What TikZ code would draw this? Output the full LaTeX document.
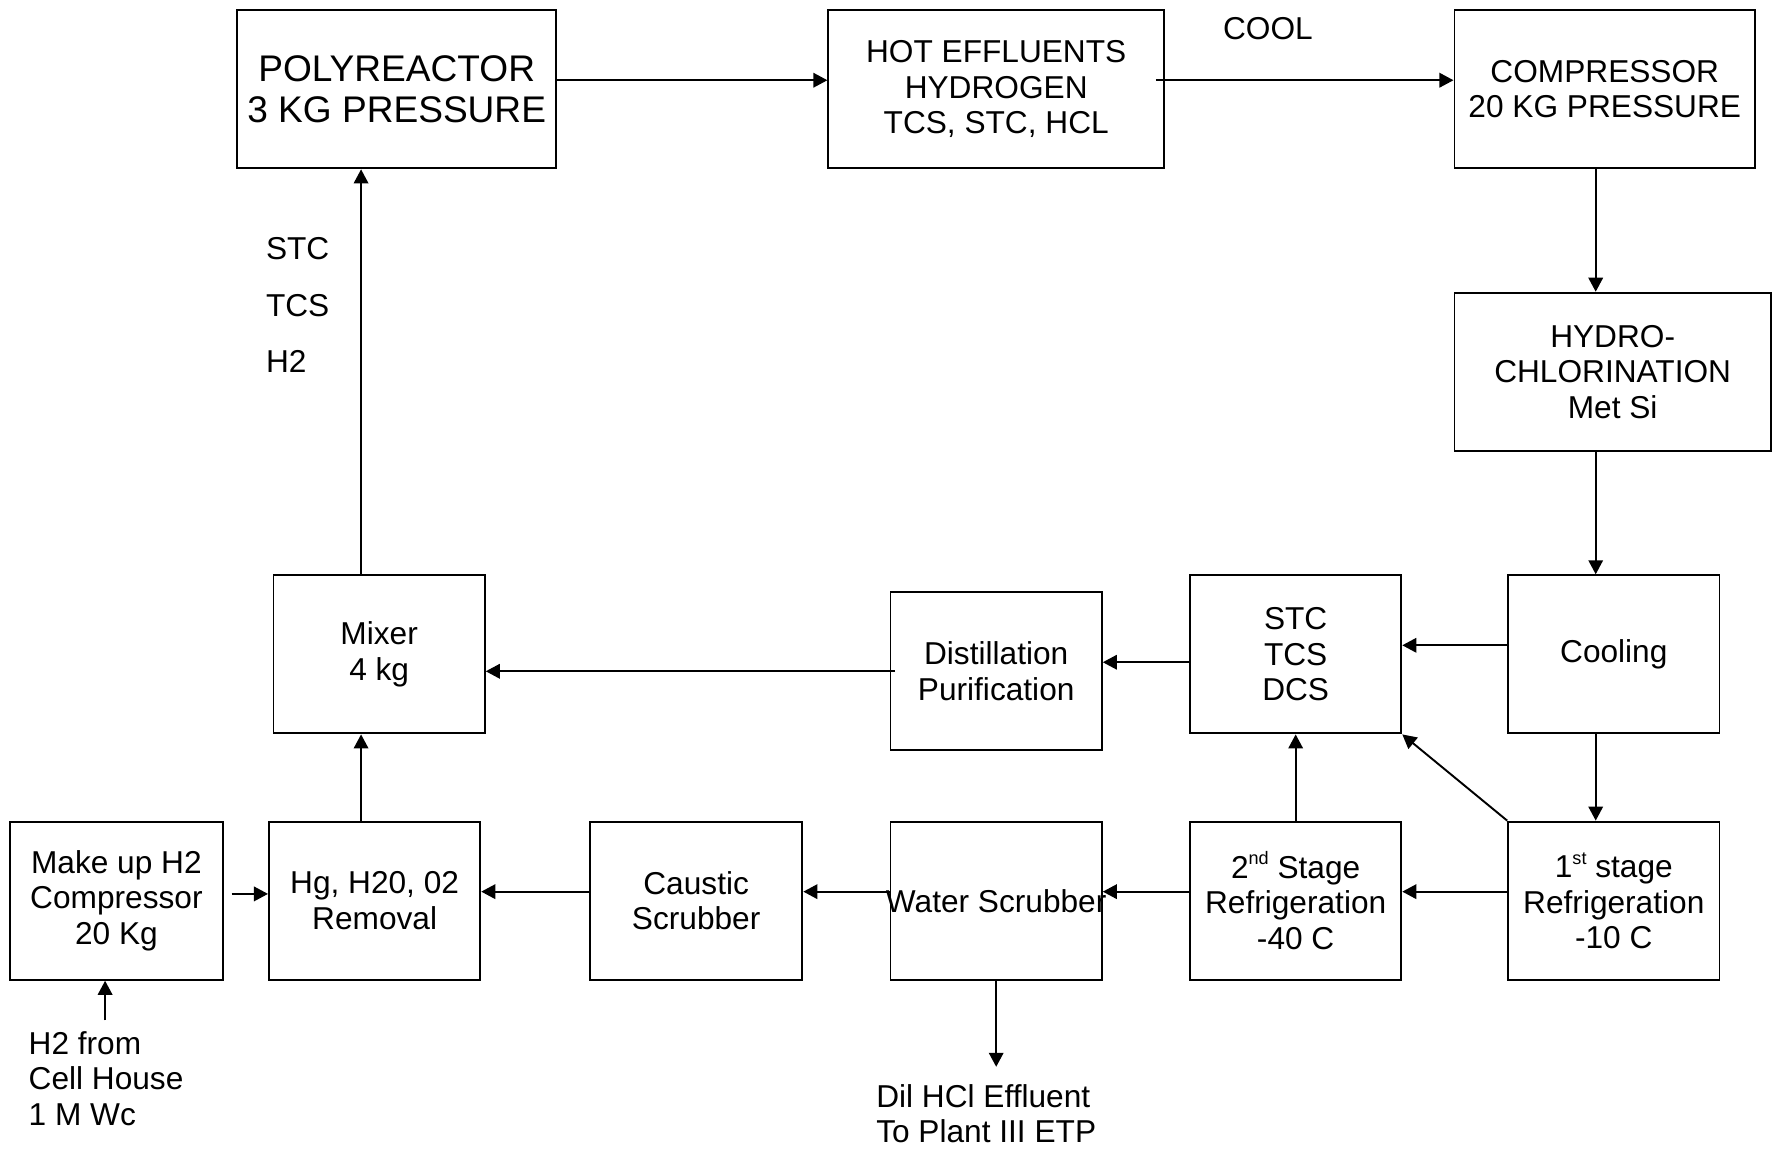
\documentclass[tikz,border=0pt]{standalone}
\usepackage{fontspec}
\setmainfont{Liberation Sans}
\usetikzlibrary{arrows.meta}
\newcommand\mysup[1]{\raisebox{0.42em}{\fontsize{8}{8}\selectfont #1}}
\begin{document}
\begin{tikzpicture}[x=0.5pt,y=-0.5pt,
  box/.style={draw, line width=0.85pt, inner sep=0pt, align=center, minimum width=93.5pt, minimum height=70pt, font=\fontsize{14}{15.75}\selectfont},
  lbl/.style={inner sep=0pt, align=left, font=\fontsize{14}{15.75}\selectfont},
  lbltext/.style={inner sep=0pt, font=\fontsize{14}{15.75}\selectfont},
  arr/.style={line width=0.85pt, -{Triangle[length=6.2pt,width=6.4pt]}},
]
\path[use as bounding box] (0,0) rectangle (1568,1016);

% boxes
\node[box, minimum width=141pt, font=\fontsize{16.4}{18.5}\selectfont] (poly) at (351,79) {POLYREACTOR\\3 KG PRESSURE};
\node[box, minimum width=148.5pt] (hot) at (881.5,79) {HOT EFFLUENTS\\HYDROGEN\\TCS, STC, HCL};
\node[box, minimum width=133pt] (comp) at (1420,79) {COMPRESSOR\\20 KG PRESSURE};
\node[box, minimum width=140pt] (hydro) at (1427,329) {HYDRO-\\CHLORINATION\\Met Si};
\node[box] (cool) at (1428,579) {Cooling};
\node[box] (stc) at (1146.5,579) {STC\\TCS\\DCS};
\node[box] (dist) at (881.5,594) {Distillation\\Purification};
\node[box] (mixer) at (335.5,579) {Mixer\\4 kg};
\node[box, minimum width=94pt] (makeup) at (103,797) {Make up H2\\Compressor\\20 Kg};
\node[box] (hg) at (331.5,797) {Hg, H20, 02\\Removal};
\node[box, minimum width=94pt] (caustic) at (616,797) {Caustic\\Scrubber};
\node[box, label={[lbltext]center:Water Scrubber}] (water) at (881.5,797) {};
\node[box] (second) at (1146.5,797) {2\mysup{nd} Stage\\Refrigeration\\-40 C};
\node[box] (first) at (1428,797) {1\mysup{st} stage\\Refrigeration\\-10 C};

% free labels
\node[lbl] (cooltxt) at (1122,25) {COOL};
\node[lbl, anchor=west, font=\fontsize{14}{25}\selectfont] (gas) at (235,270) {STC\\TCS\\H2};
\node[lbl, anchor=north west, inner ysep=4.5pt] (h2src) at (25,903) {H2 from\\Cell House\\1 M Wc};
\node[lbl, anchor=north west, inner ysep=7.5pt] (dil) at (775,944) {Dil HCl Effluent\\To Plant III ETP};

% connectors
\draw[arr] ([yshift=4pt]poly.east) -- ([yshift=4pt]hot.west);
\draw[arr] ([xshift=-4pt,yshift=4pt]hot.east) -- ([yshift=4pt]comp.west);
\draw[arr] ([xshift=-4pt]comp.south) -- ([xshift=-4pt]comp.south |- hydro.north);
\draw[arr] ([xshift=-8pt]cool.north |- hydro.south) -- ([xshift=-8pt]cool.north);
\draw[arr] ([yshift=4pt]cool.west) -- ([yshift=4pt]stc.east);
\draw[arr] ([yshift=-3.5pt]stc.west) -- ([yshift=-3.5pt]stc.west -| dist.east);
\draw[arr] ([xshift=2.5pt]dist.west) -- (dist.west -| mixer.east);
\draw[arr] ([xshift=-8pt]mixer.north) -- ([xshift=-8pt]mixer.north |- poly.south);
\draw[arr] ([xshift=-8pt]mixer.south |- hg.north) -- ([xshift=-8pt]mixer.south);
\draw[arr] ([xshift=3.5pt,yshift=3pt]makeup.east) -- ([yshift=3pt]makeup.east -| hg.west);
\draw[arr] ([yshift=4pt]caustic.west) -- ([yshift=4pt]caustic.west -| hg.east);
\draw[arr] ([yshift=4pt]water.west) -- ([yshift=4pt]caustic.east);
\draw[arr] ([yshift=4pt]second.west) -- ([yshift=4pt]water.east);
\draw[arr] ([yshift=4pt]first.west) -- ([yshift=4pt]second.east);
\draw[arr] ([xshift=-8pt]cool.south) -- ([xshift=-8pt]cool.south |- first.north);
\draw[arr] (first.north west) -- (stc.south east);
\draw[arr] (second.north) -- (stc.south);
\draw[arr] (water.south) -- (water.south |- dil.north);
\draw[arr] ([xshift=-5pt]makeup.south |- h2src.north) -- ([xshift=-5pt]makeup.south);
\end{tikzpicture}
\end{document}
